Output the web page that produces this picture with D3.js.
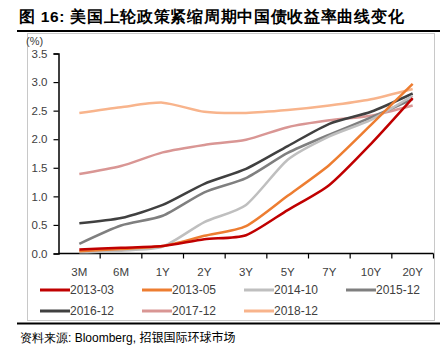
<!DOCTYPE html>
<html><head><meta charset="utf-8">
<script src="https://cdn.jsdelivr.net/npm/d3@7"></script>
<style>
body{margin:0;background:#fff;}
text{font-family:"Liberation Sans",Arial,sans-serif;}
</style></head>
<body>
<svg id="c" width="447" height="357"></svg>
<script>
const categories = ["3M","6M","1Y","2Y","3Y","5Y","7Y","10Y","20Y"];
const seriesNames = ["2013-03","2013-05","2014-10","2015-12","2016-12","2017-12","2018-12"];
const s2013_03 = [0.07,0.10,0.13,0.25,0.32,0.76,1.20,1.92,2.72];
const s2013_05 = [0.04,0.08,0.13,0.31,0.48,1.01,1.55,2.25,2.97];
const s2014_10 = [0.02,0.05,0.12,0.55,0.85,1.64,2.05,2.34,2.76];
const s2015_12 = [0.17,0.49,0.66,1.07,1.32,1.76,2.08,2.38,2.70];
const s2016_12 = [0.53,0.62,0.85,1.22,1.48,1.88,2.27,2.48,2.80];
const s2017_12 = [1.39,1.53,1.77,1.90,1.99,2.21,2.33,2.41,2.59];
const s2018_12 = [2.46,2.56,2.64,2.48,2.46,2.51,2.59,2.70,2.88];
const seriesValues = [s2013_03,s2013_05,s2014_10,s2015_12,s2016_12,s2017_12,s2018_12];
const colors = ["#C00000","#ED7D31","#BFBFBF","#7F7F7F","#404040","#D99694","#F8B48C"];
const yTicks = [0,0.5,1.0,1.5,2.0,2.5,3.0,3.5];

const svg = d3.select("#c");

// title
svg.append("text").attr("x",19).attr("y",22)
  .attr("font-family","'Noto Sans CJK SC',sans-serif").attr("font-weight","bold")
  .attr("font-size",15.5).attr("letter-spacing",0.7).attr("fill","#000")
  .text("图 16: 美国上轮政策紧缩周期中国债收益率曲线变化");
svg.append("line").attr("x1",17).attr("x2",440).attr("y1",31).attr("y2",31)
  .attr("stroke","#000").attr("stroke-width",2);

// chart box
svg.append("rect").attr("x",27.5).attr("y",33.5).attr("width",407).attr("height",287)
  .attr("fill","none").attr("stroke","#c8c8c8").attr("stroke-width",1);
svg.append("line").attr("x1",17).attr("x2",440).attr("y1",323.5).attr("y2",323.5)
  .attr("stroke","#000").attr("stroke-width",2);

const x = d3.scaleBand().domain(categories).range([58.5,433.5]).padding(0);
const y = d3.scaleLinear().domain([0,3.5]).range([253.5,53.5]);

// y axis
const ya = svg.append("g").attr("transform","translate(58.5,0)")
  .call(d3.axisLeft(y).tickValues(yTicks).tickFormat(d3.format(".1f")).tickSize(5).tickPadding(6));
ya.select(".domain").attr("stroke","#000").attr("stroke-width",1.5);
ya.selectAll(".tick line").attr("stroke","#000").attr("stroke-width",1.2);
ya.selectAll("text").attr("font-size",11.5).attr("fill","#404040")
  .attr("font-family","'Liberation Sans',Arial,sans-serif");

svg.append("text").attr("x",26).attr("y",45).attr("font-size",11).attr("fill","#404040").text("(%)");

// x axis
const xa = svg.append("g").attr("transform","translate(0,253.5)");
xa.append("line").attr("x1",58.5).attr("x2",433.5).attr("stroke","#000").attr("stroke-width",1.5);
const edges = categories.map(c=>x(c)).concat([x.range()[1]]);
xa.selectAll("line.tk").data(edges.slice(1)).join("line").attr("class","tk")
  .attr("x1",d=>d).attr("x2",d=>d).attr("y1",0).attr("y2",5).attr("stroke","#000").attr("stroke-width",1.2);
xa.selectAll("text").data(categories).join("text")
  .attr("x",d=>x(d)+x.bandwidth()/2).attr("y",22).attr("text-anchor","middle")
  .attr("font-size",11.5).attr("fill","#404040").text(d=>d);

// lines
const line = d3.line().x((d,i)=>x(categories[i])+x.bandwidth()/2).y(d=>y(d))
  .curve(d3.curveCardinal.tension(0.3));
const order = d3.range(seriesNames.length).reverse();
svg.append("g").selectAll("path").data(order).join("path")
  .attr("d",i=>line(seriesValues[i])).attr("fill","none")
  .attr("stroke",i=>colors[i]).attr("stroke-width",2.5).attr("stroke-linejoin","round");

// legend
const legX = [40,142,244,346];
const legY = [290,311];
seriesNames.forEach((n,i)=>{
  const lx = legX[i%4], ly = legY[Math.floor(i/4)];
  svg.append("line").attr("x1",lx).attr("x2",lx+30).attr("y1",ly).attr("y2",ly)
    .attr("stroke",colors[i]).attr("stroke-width",3);
  svg.append("text").attr("x",lx+30).attr("y",ly+4).attr("font-size",12).attr("fill","#404040").text(n);
});

// source
svg.append("text").attr("x",20).attr("y",342).attr("font-size",12).attr("fill","#000")
  .attr("font-family","'Noto Sans CJK SC',sans-serif")
  .text("资料来源: ")
  .append("tspan").attr("font-family","'Liberation Sans',Arial,sans-serif").text("Bloomberg, ")
  .append("tspan").attr("font-family","'Noto Sans CJK SC',sans-serif").text("招银国际环球市场");
</script>
</body></html>
